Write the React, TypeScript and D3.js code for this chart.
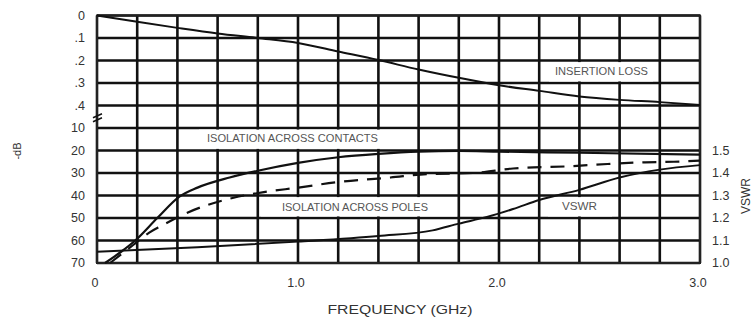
import React from "react";
import * as d3 from "d3";

// Frequency axis (GHz)
const freqTicks = [0, 1, 2, 3];
const freqTickLabels = ["0", "1.0", "2.0", "3.0"];

// Left axis: insertion loss section (dB) and isolation section (dB)
const ilTicks = [0, 0.1, 0.2, 0.3, 0.4];
const ilTickLabels = ["0", ".1", ".2", ".3", ".4"];
const dbTicks = [10, 20, 30, 40, 50, 60, 70];
const dbTickLabels = ["10", "20", "30", "40", "50", "60", "70"];

// Right axis: VSWR
const vswrTicks = [1.0, 1.1, 1.2, 1.3, 1.4, 1.5];
const vswrTickLabels = ["1.0", "1.1", "1.2", "1.3", "1.4", "1.5"];

// Insertion loss (dB) vs frequency (GHz)
const insertionFreq = [0, 0.2, 0.4, 0.6, 0.8, 1.0, 1.2, 1.4, 1.6, 1.8, 2.0, 2.2, 2.4, 2.6, 2.8, 3.0];
const insertionLoss = [0, 0.028, 0.055, 0.08, 0.1, 0.122, 0.16, 0.198, 0.24, 0.277, 0.31, 0.335, 0.36, 0.375, 0.385, 0.398];

// Isolation across contacts (dB)
const contactsFreq = [0.04, 0.12, 0.19, 0.3, 0.41, 0.5, 0.66, 0.8, 1.0, 1.2, 1.4, 1.6, 1.8, 2.0, 2.4, 3.0];
const contactsIso = [70, 65, 60, 50, 40.5, 36.5, 32, 29, 25.5, 23, 21.5, 20.5, 20.2, 20.5, 21, 21.8];

// Isolation across poles (dB)
const polesFreq = [0.065, 0.18, 0.26, 0.32, 0.44, 0.54, 0.68, 0.83, 1.0, 1.2, 1.46, 1.64, 1.87, 2.07, 2.35, 2.54, 2.7, 2.87, 3.0];
const polesIso = [70, 62, 56.5, 53.5, 48, 44.5, 41, 38.5, 36.5, 34, 32, 30.5, 30, 28, 27, 26, 25.3, 25, 24.5];

// VSWR
const vswrFreq = [0, 0.5, 1.0, 1.4, 1.67, 1.8, 1.94, 2.07, 2.2, 2.4, 2.6, 2.8, 3.0];
const vswrValues = [1.05, 1.07, 1.095, 1.12, 1.145, 1.175, 1.205, 1.24, 1.28, 1.325, 1.38, 1.415, 1.435];

const W = 754;
const H = 320;
const left = 97;
const right = 700;
const top = 15.5;
const bottom = 263;
const row = (bottom - top) / 11;

const x = d3.scaleLinear().domain([0, 3]).range([left, right]);
const yIL = d3.scaleLinear().domain([0, 0.4]).range([top, top + 4 * row]);
const yDb = d3.scaleLinear().domain([10, 70]).range([top + 5 * row, bottom]);
const yVswr = d3.scaleLinear().domain([1.0, 1.5]).range([bottom, bottom - 5 * row]);

const gridX = d3.range(0, 3.0001, 0.2);

const ink = "#111";
const labelFont = "'Liberation Sans', Arial, Helvetica, sans-serif";

function pathOf(xs: number[], ys: number[], yScale: (v: number) => number) {
  const gen = d3
    .line<number>()
    .x((_, i) => x(xs[i]))
    .y((v) => yScale(v))
    .curve(d3.curveMonotoneX);
  return gen(ys) || "";
}

// Curve captions sit on white panels that blank out the grid behind them.
type Caption = { text: string; tx: number; ty: number; len: number; x0: number; x1: number; y0: number; y1: number };

export default function App() {
  const breakY = (yIL(0.4) + yDb(10)) / 2;
  const captions: Caption[] = [
    { text: "INSERTION LOSS", tx: 555, ty: 71, len: 93, x0: 549, x1: 653, y0: yIL(0.2), y1: yIL(0.3) },
    { text: "ISOLATION ACROSS CONTACTS", tx: 207, ty: 138, len: 171, x0: 199, x1: 416, y0: yDb(10), y1: yDb(20) },
    { text: "ISOLATION ACROSS POLES", tx: 282, ty: 207, len: 146, x0: 261, x1: 457, y0: yDb(40), y1: yDb(50) },
    { text: "VSWR", tx: 562, ty: 206, len: 35, x0: 548, x1: 612, y0: yDb(40), y1: yDb(50) },
  ];
  return (
    <svg
      width={W}
      height={H}
      style={{ position: "absolute", left: 0, top: 0, background: "#fff" }}
      fontFamily={labelFont}
    >
      {/* vertical grid */}
      {gridX.map((f, i) => (
        <line key={"vx" + i} x1={x(f)} x2={x(f)} y1={top} y2={bottom} stroke={ink} strokeWidth={2.6} />
      ))}
      {/* horizontal grid: insertion loss rows */}
      {ilTicks.map((t, i) => (
        <line key={"hi" + i} x1={left} x2={right} y1={yIL(t)} y2={yIL(t)} stroke={ink} strokeWidth={2.6} />
      ))}
      {/* horizontal grid: isolation rows */}
      {dbTicks.map((t, i) => (
        <line key={"hd" + i} x1={left} x2={right} y1={yDb(t)} y2={yDb(t)} stroke={ink} strokeWidth={2.6} />
      ))}
      {/* outer frame */}
      <rect x={left} y={top} width={right - left} height={bottom - top} fill="none" stroke="#222" strokeWidth={2} />

      {/* caption panels */}
      {captions.map((c, i) => (
        <rect key={"cp" + i} x={c.x0} y={c.y0 + 1.6} width={c.x1 - c.x0} height={c.y1 - c.y0 - 3.2} fill="#fff" />
      ))}

      {/* axis break mark */}
      <g stroke={ink} strokeWidth={1.4}>
        <line x1={left - 4} y1={breakY + 1} x2={left + 5} y2={breakY - 3} />
        <line x1={left - 4} y1={breakY + 5} x2={left + 5} y2={breakY + 1} />
      </g>

      {/* curves */}
      <path d={pathOf(insertionFreq, insertionLoss, yIL)} fill="none" stroke={ink} strokeWidth={2} />
      <path d={pathOf(contactsFreq, contactsIso, yDb)} fill="none" stroke={ink} strokeWidth={2.2} />
      <path d={pathOf(polesFreq, polesIso, yDb)} fill="none" stroke={ink} strokeWidth={2.2} strokeDasharray="14 9" />
      <path d={pathOf(vswrFreq, vswrValues, yVswr)} fill="none" stroke={ink} strokeWidth={2} />

      {/* curve labels */}
      <g fill="#555" fontSize={10.5}>
        {captions.map((c, i) => (
          <text key={"ct" + i} x={c.tx} y={c.ty} dy="0.35em" textLength={c.len} lengthAdjust="spacingAndGlyphs">
            {c.text}
          </text>
        ))}
      </g>

      {/* left tick labels */}
      <g fill="#333" fontSize={12.5} textAnchor="end">
        {ilTicks.map((t, i) => (
          <text key={"li" + i} x={85} y={yIL(t)} dy="0.35em">{ilTickLabels[i]}</text>
        ))}
        {dbTicks.map((t, i) => (
          <text key={"ld" + i} x={85} y={yDb(t)} dy="0.35em">{dbTickLabels[i]}</text>
        ))}
      </g>

      {/* right tick labels */}
      <g fill="#333" fontSize={12.5} textAnchor="start">
        {vswrTicks.map((t, i) => (
          <text key={"rv" + i} x={712} y={yVswr(t)} dy="0.35em">{vswrTickLabels[i]}</text>
        ))}
      </g>

      {/* bottom tick labels */}
      <g fill="#333" fontSize={12.5} textAnchor="middle">
        {freqTicks.map((t, i) => (
          <text key={"bx" + i} x={x(t) - 2} y={283} dy="0.35em">{freqTickLabels[i]}</text>
        ))}
      </g>

      {/* axis titles */}
      <text x={400} y={310} dy="0.35em" textAnchor="middle" fill="#333" fontSize={12.5} textLength={145} lengthAdjust="spacingAndGlyphs">
        FREQUENCY (GHz)
      </text>
      <text transform="translate(17,151) rotate(-90)" textAnchor="middle" dy="0.35em" fill="#333" fontSize={11}>
        -dB
      </text>
      <text transform="translate(746,196) rotate(-90)" textAnchor="middle" dy="0.35em" fill="#333" fontSize={12}>
        VSWR
      </text>
    </svg>
  );
}
